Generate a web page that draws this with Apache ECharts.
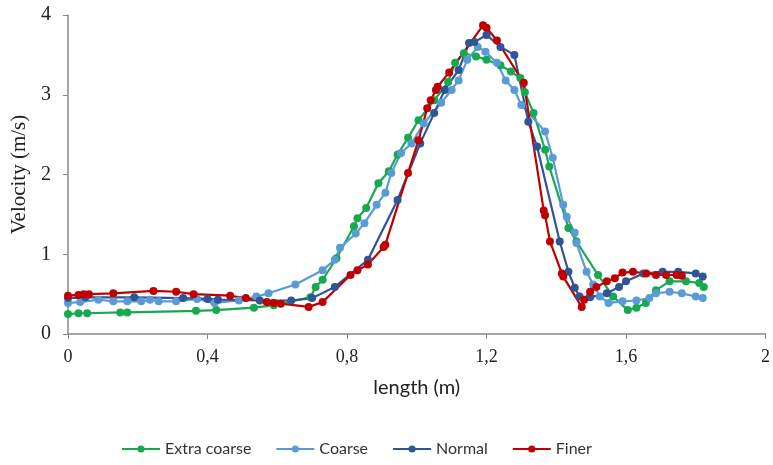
<!DOCTYPE html>
<html>
<head>
<meta charset="utf-8">
<script src="https://cdn.jsdelivr.net/npm/echarts@6/dist/echarts.min.js"></script>
<style>html,body{margin:0;padding:0;background:#fff}#c{width:773px;height:465px}</style>
</head>
<body>
<div id="c"></div>
<script>
const seriesNames = ['Extra coarse', 'Coarse', 'Normal', 'Finer'];
const xTicks = [0, 0.4, 0.8, 1.2, 1.6, 2];
const yTicks = [0, 1, 2, 3, 4];

const extraX = [0, 0.03, 0.055, 0.15, 0.17, 0.367, 0.425, 0.533, 0.59, 0.695, 0.71, 0.73, 0.77, 0.82, 0.83, 0.855, 0.89, 0.92, 0.945, 0.975, 1.005, 1.05, 1.09, 1.11, 1.135, 1.17, 1.20, 1.24, 1.27, 1.297, 1.31, 1.335, 1.368, 1.38, 1.435, 1.458, 1.52, 1.563, 1.605, 1.63, 1.657, 1.686, 1.725, 1.772, 1.81, 1.823];
const extraY = [0.25, 0.26, 0.26, 0.27, 0.27, 0.29, 0.30, 0.33, 0.36, 0.46, 0.59, 0.68, 0.95, 1.35, 1.45, 1.58, 1.89, 2.04, 2.25, 2.46, 2.68, 2.93, 3.16, 3.40, 3.52, 3.48, 3.44, 3.37, 3.29, 3.21, 3.03, 2.77, 2.31, 2.10, 1.33, 1.16, 0.74, 0.47, 0.30, 0.33, 0.39, 0.55, 0.66, 0.66, 0.64, 0.59];

const coarseX = [0, 0.035, 0.087, 0.13, 0.17, 0.21, 0.235, 0.26, 0.31, 0.37, 0.42, 0.49, 0.54, 0.575, 0.652, 0.73, 0.765, 0.78, 0.825, 0.85, 0.885, 0.91, 0.927, 0.955, 0.985, 1.02, 1.07, 1.10, 1.12, 1.145, 1.175, 1.197, 1.23, 1.255, 1.28, 1.30, 1.368, 1.39, 1.42, 1.43, 1.453, 1.458, 1.487, 1.506, 1.525, 1.55, 1.59, 1.63, 1.667, 1.686, 1.725, 1.76, 1.80, 1.82];
const coarseY = [0.39, 0.40, 0.43, 0.41, 0.41, 0.41, 0.43, 0.41, 0.41, 0.44, 0.39, 0.42, 0.47, 0.51, 0.62, 0.80, 0.93, 1.08, 1.26, 1.39, 1.62, 1.77, 2.02, 2.27, 2.39, 2.64, 2.90, 3.06, 3.18, 3.44, 3.60, 3.54, 3.40, 3.18, 3.06, 2.87, 2.54, 2.21, 1.62, 1.47, 1.27, 1.14, 0.78, 0.62, 0.47, 0.39, 0.41, 0.42, 0.45, 0.51, 0.53, 0.51, 0.47, 0.45];

const normalX = [0, 0.05, 0.19, 0.33, 0.40, 0.43, 0.55, 0.64, 0.70, 0.765, 0.86, 0.945, 1.01, 1.05, 1.08, 1.12, 1.15, 1.165, 1.20, 1.24, 1.28, 1.32, 1.345, 1.41, 1.435, 1.453, 1.467, 1.497, 1.545, 1.58, 1.60, 1.65, 1.705, 1.75, 1.80, 1.82];
const normalY = [0.45, 0.46, 0.46, 0.45, 0.44, 0.43, 0.42, 0.42, 0.45, 0.59, 0.93, 1.68, 2.39, 2.77, 3.06, 3.31, 3.65, 3.66, 3.75, 3.60, 3.50, 2.66, 2.35, 1.16, 0.78, 0.58, 0.47, 0.46, 0.51, 0.59, 0.66, 0.76, 0.78, 0.78, 0.76, 0.72];

const finerX = [0, 0.03, 0.045, 0.06, 0.13, 0.245, 0.31, 0.36, 0.465, 0.51, 0.57, 0.59, 0.61, 0.69, 0.73, 0.81, 0.83, 0.86, 0.905, 0.91, 0.975, 1.005, 1.03, 1.04, 1.055, 1.06, 1.093, 1.19, 1.20, 1.23, 1.307, 1.364, 1.368, 1.382, 1.416, 1.42, 1.473, 1.48, 1.497, 1.515, 1.545, 1.568, 1.59, 1.62, 1.658, 1.686, 1.715, 1.745, 1.76];
const finerY = [0.48, 0.49, 0.5, 0.5, 0.51, 0.54, 0.53, 0.5, 0.48, 0.45, 0.40, 0.39, 0.38, 0.34, 0.40, 0.74, 0.80, 0.87, 1.09, 1.12, 2.02, 2.43, 2.83, 2.93, 3.06, 3.10, 3.28, 3.87, 3.84, 3.68, 3.15, 1.55, 1.49, 1.16, 0.76, 0.72, 0.34, 0.43, 0.53, 0.59, 0.66, 0.70, 0.77, 0.78, 0.76, 0.74, 0.74, 0.74, 0.73];

const colors = ['#17A950', '#5B9BD5', '#2F5597', '#C00000'];
const xs = [extraX, coarseX, normalX, finerX];
const ys = [extraY, coarseY, normalY, finerY];

function pairs(a, b) { return a.map((v, i) => [v, b[i]]); }

const chart = echarts.init(document.getElementById('c'));
chart.setOption({
  backgroundColor: '#fff',
  animation: false,
  color: colors,
  grid: { left: 68, right: 3, top: 15, bottom: 131 },
  legend: {
    bottom: 3,
    left: 116,
    itemWidth: 38,
    itemHeight: 9,
    itemGap: 24,
    textStyle: { fontFamily: 'Lato', fontSize: 16, color: '#333' },
    data: seriesNames
  },
  xAxis: {
    type: 'value',
    min: xTicks[0], max: xTicks[xTicks.length - 1], interval: 0.4,
    name: 'length (m)', nameLocation: 'middle', nameGap: 44,
    nameTextStyle: { fontFamily: 'Lato', fontSize: 20, color: '#222' },
    axisLine: { lineStyle: { color: '#888', width: 1.5 } },
    axisTick: { show: true, length: 5, lineStyle: { color: '#888' } },
    splitLine: { show: false },
    axisLabel: {
      fontFamily: 'Liberation Serif', fontSize: 18, color: '#222', margin: 14,
      formatter: v => String(Math.round(v * 10) / 10).replace('.', ',')
    }
  },
  yAxis: {
    type: 'value',
    min: yTicks[0], max: yTicks[yTicks.length - 1], interval: 1,
    name: 'Velocity (m/s)', nameLocation: 'middle', nameGap: 35, nameRotate: 90,
    nameTextStyle: { fontFamily: 'Liberation Serif', fontSize: 21, color: '#222' },
    axisLine: { show: true, lineStyle: { color: '#888', width: 1.5 } },
    axisTick: { show: true, length: 5, lineStyle: { color: '#888' } },
    splitLine: { show: false },
    axisLabel: { fontFamily: 'Liberation Serif', fontSize: 20, color: '#222', margin: 17 }
  },
  series: seriesNames.map((n, i) => ({
    name: n,
    type: 'line',
    data: pairs(xs[i], ys[i]),
    symbol: 'circle',
    symbolSize: 8,
    showAllSymbol: true,
    lineStyle: { width: 2.2, color: colors[i] },
    itemStyle: { color: colors[i] }
  }))
});
</script>
</body>
</html>
